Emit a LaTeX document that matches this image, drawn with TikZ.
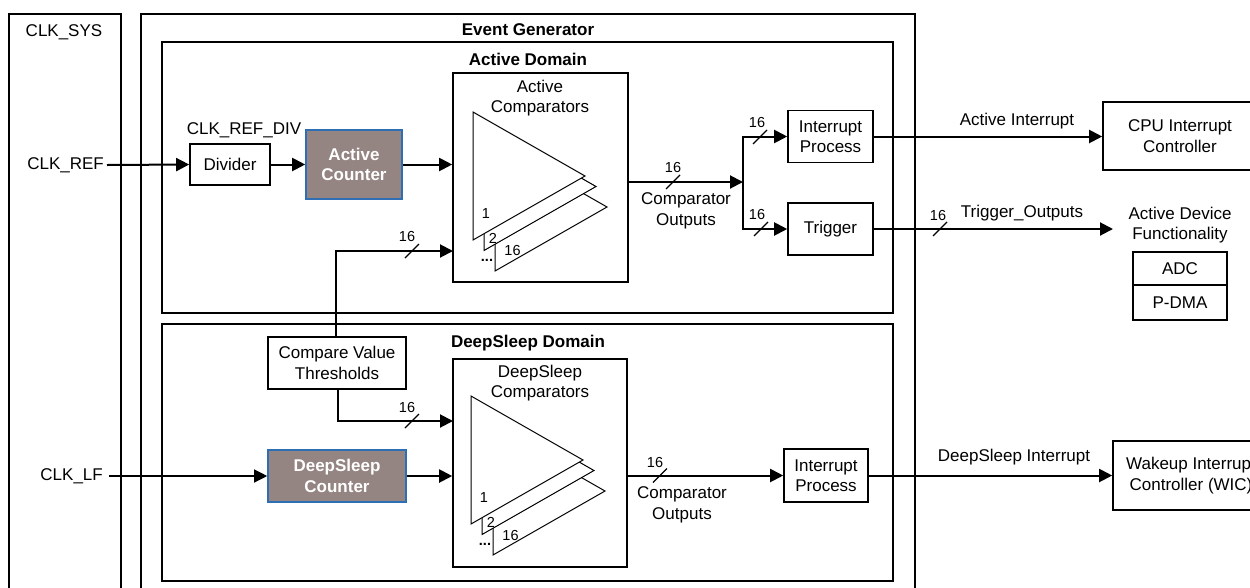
\documentclass[tikz,border=0pt]{standalone}
\usepackage{fontspec}
\setmainfont{Liberation Sans}
\usetikzlibrary{arrows.meta}

\definecolor{cntfill}{RGB}{148,132,130}
\definecolor{cntborder}{RGB}{46,110,180}

\newcommand\fmain{\fontsize{17}{20.5}\selectfont}
\newcommand\fbus{\fontsize{14.5}{17}\selectfont}

\tikzset{
  every node/.style={font=\fmain, inner sep=0pt},
  box/.style={draw, line width=1.6pt, fill=white, align=center},
  cnt/.style={draw=cntborder, line width=1.6pt, fill=cntfill, text=white,
              font=\fmain\bfseries, align=center},
  conn/.style={line width=2pt, -{Triangle[length=13pt,width=13pt]}},
  thinconn/.style={line width=1.3pt, -{Triangle[length=13pt,width=13pt]}},
  outerframe/.style={draw, line width=2.6pt},
  domframe/.style={draw, line width=2.1pt},
  sysframe/.style={draw, line width=1.3pt},
  title/.style={font=\fmain\bfseries},
  buslabel/.style={font=\fbus},
  busmark/.pic={\draw[line width=1.2pt] (-7,7) -- (7,-7);},
  cmpstack/.pic={
    \draw[line width=1pt, fill=white] (22,31) -- (22,159) -- (134,95) -- cycle;
    \draw[line width=1pt, fill=white] (11,10.5) -- (11,138.5) -- (123,74.5) -- cycle;
    \draw[line width=1pt, fill=white] (0,0) -- (0,128) -- (112,64) -- cycle;
    \node[buslabel] (-n1) at (13,102) {1};
    \node[buslabel] (-n2) at (20,126) {2};
    \node[buslabel] (-n16) at (39.5,139) {16};
    \node[font=\fbus\bfseries] (-dots) at (14,148) {...};
  }
}

\begin{document}
\begin{tikzpicture}[x=1pt,y=-1pt]
\useasboundingbox (0,0) rectangle (1250,587);
\clip (0,0) rectangle (1250,587);

% system clock column and event generator frames
\draw[sysframe] (9,14) rectangle (121,620);
\node (clksys) at (64,32) {CLK\_SYS};
\draw[outerframe] (141,14) rectangle (915,620);
\node[title] (egtitle) at (528,30) {Event Generator};
\draw[domframe] (162,42) rectangle (893,313);
\node[title] (adtitle) at (528,59) {Active Domain};
\draw[domframe] (162,324) rectangle (893,581);
\node[title] (dstitle) at (528,343) {DeepSleep Domain};

% ---------------- Active domain ----------------
\node[anchor=east] (clkref) at (104,165) {CLK\_REF};
\node[box, minimum width=80, minimum height=41] (div) at (230,164.5) {Divider};
\node (refdiv) at (244,130) {CLK\_REF\_DIV};
\node[cnt, minimum width=96, minimum height=69] (acnt) at (354,164.5) {Active\\Counter};

\node[box, minimum width=175, minimum height=209] (acmp) at (540.5,177.5) {};
\node[align=center] (acmptxt) at (540,98) {Active\\Comparators};
\pic (astack) at (473,112) {cmpstack};

\draw[conn] ([xshift=3pt]clkref.east) -- (div.west);
\draw[conn] (div.east) -- (acnt.west);
\draw[conn] (acnt.east) -- (acnt.east -| acmp.west);

\coordinate (jn) at (743,182);
\draw[conn] (acmp.east |- jn) -- (jn);
\pic at (673,182) {busmark};
\node[buslabel] (ao16) at (673,168) {16};
\node[align=center] (aotxt) at (686,211) {Comparator\\Outputs};

\node[box, minimum width=85, minimum height=52] (aip) at (830.5,136.5) {Interrupt\\Process};
\node[box, minimum width=85, minimum height=52] (trig) at (830.5,229) {Trigger};
\draw[conn] (jn) |- (aip.west);
\draw[conn] (jn) |- (trig.west);
\pic at (760,137) {busmark};
\node[buslabel] (ai16) at (757,123) {16};
\pic at (761,229) {busmark};
\node[buslabel] (at16) at (757,215) {16};

% outputs of the active domain
\node[box, minimum width=154, minimum height=68] (cpu) at (1180,136) {CPU Interrupt\\Controller};
\draw[conn] (aip.east) -- (aip.east -| cpu.west);
\node (aitxt) at (1017,121) {Active Interrupt};

\coordinate (adfin) at (1113,229);
\node[align=center] (adf) at (1180,225) {Active Device\\Functionality};
\draw[conn] (trig.east) -- (adfin);
\pic at (940,229) {busmark};
\node[buslabel] (to16) at (938,216) {16};
\node (totxt) at (1022,213) {Trigger\_Outputs};
\node[box, line width=1.3pt, minimum width=94, minimum height=33] (adc) at (1180,268.5) {ADC};
\node[box, line width=1.3pt, minimum width=94, minimum height=35] (pdma) at (1180,302.5) {P-DMA};

% ---------------- compare thresholds ----------------
\node[box, minimum width=138, minimum height=52] (cvt) at (337,363) {Compare Value\\Thresholds};
\coordinate (abus) at (453,251);
\draw[conn] (cvt.north -| 336,0) |- (abus);
\pic at (412,251) {busmark};
\node[buslabel] (ab16) at (407,237) {16};

% ---------------- DeepSleep domain ----------------
\node[anchor=east] (clklf) at (103,476) {CLK\_LF};
\node[cnt, minimum width=138, minimum height=52] (dcnt) at (337,476) {DeepSleep\\Counter};
\node[box, minimum width=174, minimum height=208] (dcmp) at (540,463) {};
\node[align=center] (dcmptxt) at (540,383) {DeepSleep\\Comparators};
\pic (dstack) at (471,396) {cmpstack};

\coordinate (dbus) at (453,421);
\draw[conn] (cvt.south -| 338,0) |- (dbus);
\pic at (412,421) {busmark};
\node[buslabel] (db16) at (407,407) {16};

\draw[thinconn] ([xshift=6pt]clklf.east) -- (dcnt.west);
\draw[conn] (dcnt.east) -- (dcnt.east -| dcmp.west);

\node[box, minimum width=84, minimum height=53] (dip) at (826,475.5) {Interrupt\\Process};
\draw[conn] (dcmp.east |- dip.west) -- (dip.west);
\pic at (660,475.5) {busmark};
\node[buslabel] (do16) at (655,462) {16};
\node[align=center] (dotxt) at (682,505) {Comparator\\Outputs};

\node[box, minimum width=156, minimum height=69] (wic) at (1191,475.5) {Wakeup Interrupt\\Controller (WIC)};
\draw[conn] (dip.east) -- (dip.east -| wic.west);
\node (dstxt) at (1014,457) {DeepSleep Interrupt};
\end{tikzpicture}
\end{document}
